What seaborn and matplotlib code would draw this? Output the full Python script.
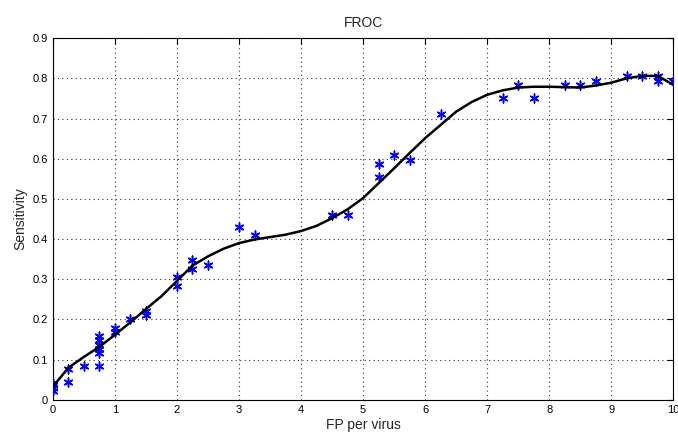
import numpy as np
import pandas as pd
import matplotlib
matplotlib.use("Agg")
import matplotlib.pyplot as plt
import seaborn as sns

# Puntos medidos (FP por virus, sensibilidad)
fp_points = [0, 0, 0, 0, 0.25, 0.25, 0.5,
             0.75, 0.75, 0.75, 0.75, 0.75, 0.75,
             1, 1, 1.25, 1.5, 1.5, 2, 2,
             2.25, 2.25, 2.5, 3, 3.25, 4.5, 4.75,
             5.25, 5.25, 5.5, 5.75, 6.25, 7.25, 7.5, 7.75,
             8.25, 8.5, 8.75, 9.25, 9.5, 9.75, 9.75, 10]
sens_points = [0.043, 0.037, 0.03, 0.022, 0.076, 0.044, 0.085,
               0.158, 0.148, 0.137, 0.127, 0.116, 0.085,
               0.18, 0.168, 0.2, 0.222, 0.211, 0.305, 0.284,
               0.348, 0.326, 0.335, 0.431, 0.41, 0.461, 0.461,
               0.586, 0.555, 0.608, 0.597, 0.711, 0.751, 0.784, 0.751,
               0.784, 0.784, 0.793, 0.806, 0.806, 0.806, 0.793, 0.793]

# Curva ajustada
fp_curve = [0, 0.25, 0.5, 0.75, 1, 1.25, 1.5, 1.75, 2, 2.25, 2.5, 2.75,
            3, 3.25, 3.5, 3.75, 4, 4.25, 4.5, 4.75, 5, 5.25, 5.5, 5.75,
            6, 6.25, 6.5, 6.75, 7, 7.25, 7.5, 7.75, 8, 8.25, 8.5, 8.75,
            9, 9.25, 9.5, 9.75, 10]
sens_curve = [0.033, 0.08, 0.107, 0.132, 0.162, 0.193, 0.226, 0.258, 0.296, 0.334, 0.357, 0.376,
              0.39, 0.399, 0.405, 0.411, 0.42, 0.433, 0.452, 0.474, 0.502, 0.539, 0.576, 0.614,
              0.651, 0.684, 0.717, 0.741, 0.759, 0.77, 0.777, 0.779, 0.779, 0.778, 0.777, 0.782,
              0.789, 0.8, 0.806, 0.806, 0.784]

df_pts = pd.DataFrame({"fp": fp_points, "sens": sens_points})
df_curve = pd.DataFrame({"fp": fp_curve, "sens": sens_curve})

sns.set_style("white")
plt.rcParams['font.family'] = ['Liberation Sans', 'DejaVu Sans']

fig = plt.figure(figsize=(6.78, 4.38), dpi=100)
ax = fig.add_axes([0.078, 0.087, 0.915, 0.826])

# asterisco estilo MATLAB
sns.scatterplot(data=df_pts, x="fp", y="sens", marker=(6, 2, 0), color="#0000ff",
                s=40, linewidth=1.1, edgecolor="#0000ff", ax=ax, zorder=3)
sns.lineplot(data=df_curve, x="fp", y="sens", color="black", linewidth=1.8, ax=ax, zorder=4)

ax.set_xlim(0, 10)
ax.set_ylim(0, 0.9)
ax.set_xticks(np.arange(0, 11, 1))
ax.set_yticks(np.round(np.arange(0, 0.91, 0.1), 1))
ax.set_yticklabels(["0"] + [f"{v:.1f}" for v in np.arange(0.1, 0.91, 0.1)])
ax.grid(True, linestyle=(0, (1, 3)), color="#333333", linewidth=0.8)
ax.tick_params(direction="in", top=True, right=True, length=4, labelsize=8, colors="black")
for s in ax.spines.values():
    s.set_color("black")
    s.set_linewidth(0.8)

ax.set_title("FROC", fontsize=10, pad=8)
ax.set_xlabel("FP per virus", fontsize=10, labelpad=2)
ax.set_ylabel("Sensitivity", fontsize=10)

fig.savefig("out.png", dpi=100)
